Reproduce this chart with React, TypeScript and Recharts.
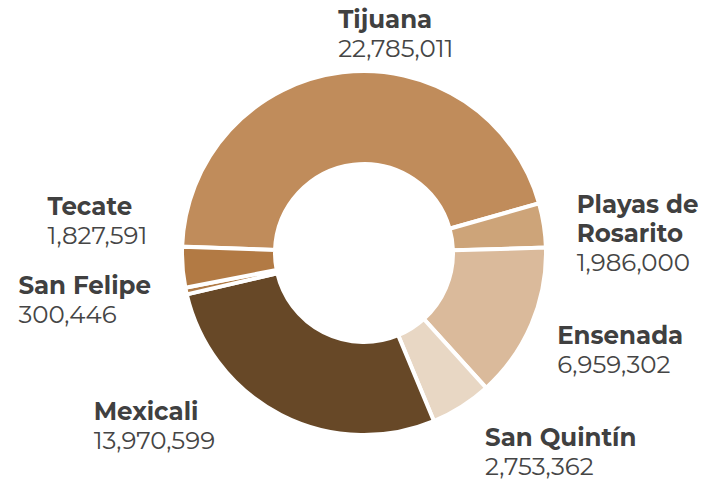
import { PieChart, Pie, Cell } from "recharts";

// Baja California municipios, clockwise from the left
const municipios = [
  "Tijuana",
  "Playas de Rosarito",
  "Ensenada",
  "San Quintín",
  "Mexicali",
  "San Felipe",
  "Tecate",
];
const valores = [22785011, 1986000, 6959302, 2753362, 13970599, 300446, 1827591];
const colores = ["#C08C5B", "#CDA479", "#DABA9B", "#E8D7C4", "#674827", "#B07A45", "#B27A44"];

const data = municipios.map((m, i) => ({ name: m, value: valores[i] }));

const RADIAN = Math.PI / 180;
const FONT = "Montserrat, 'DejaVu Sans', sans-serif";

// label nudges from the point just outside each slice
const nudge: Record<string, [number, number]> = {
  Tijuana: [-2, -28],
  "Playas de Rosarito": [17, -10],
  Ensenada: [11, 13],
  "San Quintín": [15, 26],
  Mexicali: [-180, -9],
  "San Felipe": [-152, 0],
  Tecate: [-119, -54],
};
const wrap: Record<string, string[]> = {
  "Playas de Rosarito": ["Playas de", "Rosarito"],
};

function renderLabel(props: any) {
  const { cx, cy, midAngle, outerRadius, name, value } = props;
  const r = outerRadius + 16;
  const px = cx + r * Math.cos(-midAngle * RADIAN);
  const py = cy + r * Math.sin(-midAngle * RADIAN);
  const [dx, dy] = nudge[name] || [0, 0];
  const x = px + dx;
  const y = py + dy;
  const lines = wrap[name] || [name];
  return (
    <text x={x} y={y} textAnchor="start" fontFamily={FONT}>
      {lines.map((l, i) => (
        <tspan key={i} x={x} dy={i === 0 ? 0 : 29} fontWeight={700} fontSize={24.5} fill="#404040">
          {l}
        </tspan>
      ))}
      <tspan x={x} dy={29} fontWeight={400} fontSize={24.5} fill="#454545">
        {Number(value).toLocaleString("en-US")}
      </tspan>
    </text>
  );
}

export default function App() {
  // placed at the page origin so the top label has room above it
  return (
    <div style={{ position: "absolute", left: 0, top: 0, width: 708, height: 483 }}>
      <PieChart width={708} height={483}>
        <Pie
          data={data}
          dataKey="value"
          nameKey="name"
          cx={359}
          cy={248}
          innerRadius={89}
          outerRadius={182}
          startAngle={178}
          endAngle={-182}
          stroke="#ffffff"
          strokeWidth={4}
          label={renderLabel}
          labelLine={false}
          isAnimationActive={false}
        >
          {data.map((d, i) => (
            <Cell key={d.name} fill={colores[i]} />
          ))}
        </Pie>
      </PieChart>
    </div>
  );
}
